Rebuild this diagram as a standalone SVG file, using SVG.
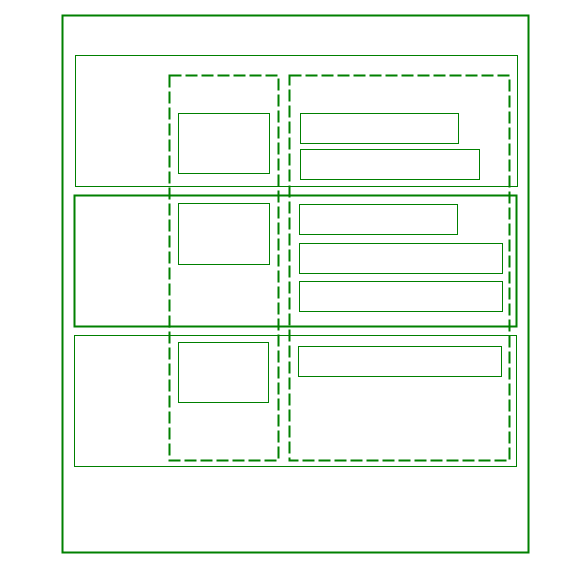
<svg xmlns="http://www.w3.org/2000/svg" width="564" height="569" viewBox="0 0 564 569">
<style>
rect{fill:none;stroke:#008000}
.outer{stroke-width:2}
.lane{stroke-width:1}
.lane.thick{stroke-width:2}
.col{stroke-width:2;stroke-dasharray:12 4}
.box{stroke-width:1}
</style>
<rect width="564" height="569" fill="#ffffff" style="stroke:none"/>
<g id="pool"><rect class="outer" x="62.5" y="15.5" width="466" height="537"/></g>
<g id="lane1"><rect class="lane" x="75.5" y="55.5" width="442" height="131"/></g>
<g id="lane2"><rect class="lane thick" x="74.5" y="195.5" width="442" height="131"/></g>
<g id="lane3"><rect class="lane" x="74.5" y="335.5" width="442" height="131"/></g>
<g id="col1"><rect class="col" x="169.5" y="75.5" width="109" height="385"/></g>
<g id="col2"><rect class="col" x="289.5" y="75.5" width="220" height="385"/></g>
<g id="n1"><rect class="box" x="178.5" y="113.5" width="91" height="60"/></g>
<g id="n2"><rect class="box" x="300.5" y="113.5" width="158" height="30"/></g>
<g id="n3"><rect class="box" x="300.5" y="149.5" width="179" height="30"/></g>
<g id="n4"><rect class="box" x="178.5" y="203.5" width="91" height="61"/></g>
<g id="n5"><rect class="box" x="299.5" y="204.5" width="158" height="30"/></g>
<g id="n6"><rect class="box" x="299.5" y="243.5" width="203" height="30"/></g>
<g id="n7"><rect class="box" x="299.5" y="281.5" width="203" height="30"/></g>
<g id="n8"><rect class="box" x="178.5" y="342.5" width="90" height="60"/></g>
<g id="n9"><rect class="box" x="298.5" y="346.5" width="203" height="30"/></g>
<g id="connectors"></g>
</svg>
